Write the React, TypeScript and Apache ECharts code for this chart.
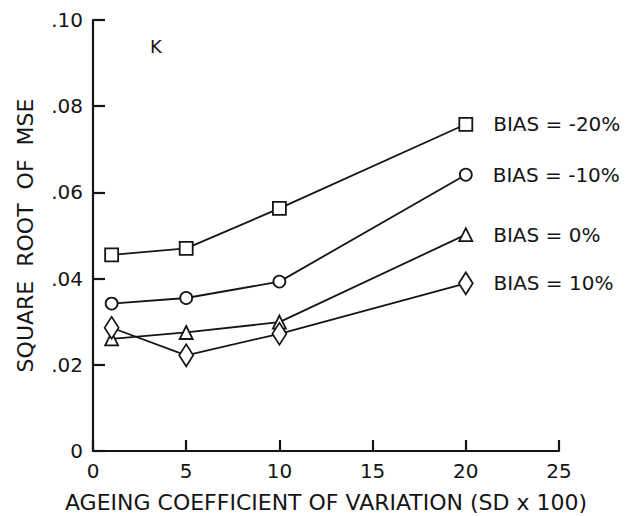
import React, { useEffect, useRef } from "react";
import * as echarts from "echarts";

const xValues = [1, 5, 10, 20];
const seriesNames = ["BIAS = -20%", "BIAS = -10%", "BIAS = 0%", "BIAS = 10%"];
const biasM20 = [0.0455, 0.047, 0.0563, 0.0758];
const biasM10 = [0.0342, 0.0355, 0.0393, 0.0641];
const bias0 = [0.026, 0.0275, 0.0299, 0.0502];
const bias10 = [0.0286, 0.0222, 0.0272, 0.0389];
const yTickLabels: Record<string, string> = {
  "0": "0",
  "0.02": ".02",
  "0.04": ".04",
  "0.06": ".06",
  "0.08": ".08",
  "0.1": ".10",
};

const FONT = "'DejaVu Sans', sans-serif";
const INK = "#151515";

export default function App() {
  const ref = useRef<HTMLDivElement>(null);
  useEffect(() => {
    if (!ref.current) return;
    const chart = echarts.init(ref.current, null, { renderer: "svg" });
    const allValues = [biasM20, biasM10, bias0, bias10];
    const symbols = ["rect", "circle", "triangle", "diamond"];
    const sizes: any[] = [13, 12, 13, [14, 22]];
    const series = allValues.map((vals, si) => ({
      type: "line",
      name: seriesNames[si],
      symbol: symbols[si],
      symbolSize: sizes[si],
      showAllSymbol: true,
      lineStyle: { color: INK, width: 1.8 },
      itemStyle: { color: "#fff", borderColor: INK, borderWidth: 1.8 },
      z: 3,
      data: vals.map((v, i) => {
        const item: any = { value: [xValues[i], v] };
        if (i === vals.length - 1) {
          item.label = {
            show: true,
            position: "right",
            distance: 20,
            formatter: seriesNames[si],
            color: INK,
            fontSize: 20,
            fontFamily: FONT,
          };
        }
        return item;
      }),
    }));
    chart.setOption({
      animation: false,
      backgroundColor: "#fff",
      grid: {
        left: 85,
        right: 75,
        top: 12,
        bottom: 65,
        containLabel: false,
        outerBoundsMode: "none",
      },
      xAxis: {
        type: "value",
        min: 0,
        max: 25,
        interval: 5,
        name: "AGEING COEFFICIENT OF VARIATION (SD x 100)",
        nameLocation: "middle",
        nameGap: 40,
        nameTextStyle: { color: INK, fontSize: 22, fontFamily: FONT },
        axisLine: { show: true, onZero: false, lineStyle: { color: INK, width: 2.2 } },
        axisTick: { show: true, inside: true, length: 11, lineStyle: { color: INK, width: 2.2 } },
        axisLabel: { color: INK, fontSize: 20, fontFamily: FONT, margin: 10 },
        splitLine: { show: false },
      },
      yAxis: {
        type: "value",
        min: 0,
        max: 0.1,
        interval: 0.02,
        name: "SQUARE  ROOT  OF  MSE",
        nameLocation: "middle",
        nameGap: 57,
        nameRotate: 90,
        nameTextStyle: { color: INK, fontSize: 22, fontFamily: FONT },
        axisLine: { show: true, lineStyle: { color: INK, width: 2.2 } },
        axisTick: { show: true, inside: true, length: 12, lineStyle: { color: INK, width: 2.2 } },
        axisLabel: {
          color: INK,
          fontSize: 20,
          fontFamily: FONT,
          margin: 10,
          formatter: (v: number) => yTickLabels[String(Math.round(v * 100) / 100)] ?? String(v),
        },
        splitLine: { show: false },
      },
      graphic: [
        {
          type: "text",
          left: 142,
          top: 29,
          style: { text: "K", fontSize: 18, fontFamily: FONT, fill: INK },
        },
      ],
      series,
    });
    return () => chart.dispose();
  }, []);
  return <div ref={ref} style={{ width: 626, height: 508 }} />;
}
